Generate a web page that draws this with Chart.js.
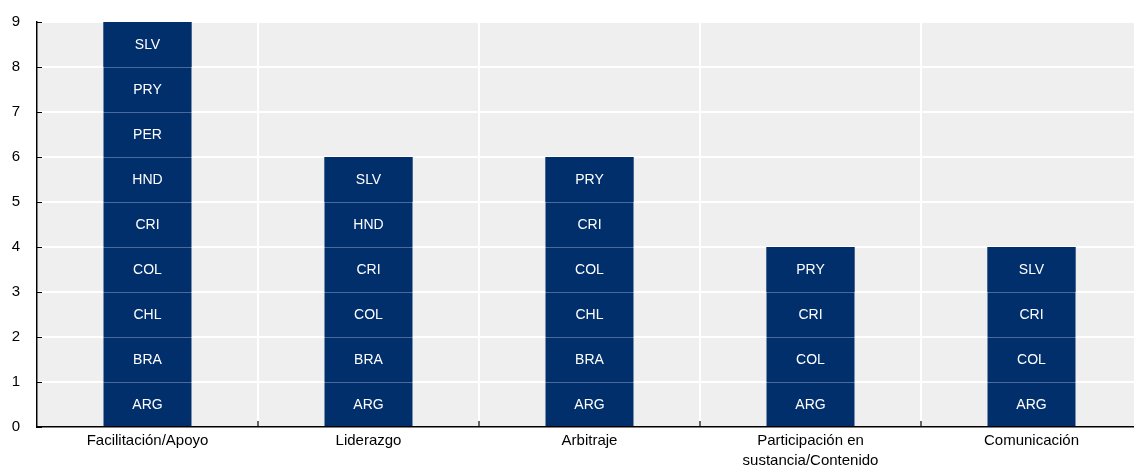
<!DOCTYPE html>
<html>
<head>
<meta charset="utf-8">
<script src="https://cdn.jsdelivr.net/npm/chart.js@4"></script>
<style>
  body { margin: 0; background: #fff; overflow: hidden; }
</style>
</head>
<body>
<canvas id="chart" width="1150" height="469"></canvas>
<script>
// DATA
var categories = [
  "Facilitación/Apoyo",
  "Liderazgo",
  "Arbitraje",
  ["Participación en", "sustancia/Contenido"],
  "Comunicación"
];

// countries in each bar, bottom to top (each counts 1)
var facilitacion = ["ARG", "BRA", "CHL", "COL", "CRI", "HND", "PER", "PRY", "SLV"];
var liderazgo = ["ARG", "BRA", "COL", "CRI", "HND", "SLV"];
var arbitraje = ["ARG", "BRA", "CHL", "COL", "CRI", "PRY"];
var participacion = ["ARG", "COL", "CRI", "PRY"];
var comunicacion = ["ARG", "COL", "CRI", "SLV"];

var yTicks = [0, 1, 2, 3, 4, 5, 6, 7, 8, 9];

var barLists = [facilitacion, liderazgo, arbitraje, participacion, comunicacion];

var navy = "#002F6C";
var FONT = "'Liberation Sans', Arial, sans-serif";

// one stacked dataset per level
var maxLevel = 0;
for (var i = 0; i < barLists.length; i++) {
  if (barLists[i].length > maxLevel) maxLevel = barLists[i].length;
}

var datasets = [];
for (var lvl = 0; lvl < maxLevel; lvl++) {
  var vals = [];
  for (var c = 0; c < barLists.length; c++) {
    vals.push(barLists[c][lvl] ? 1 : null);
  }
  datasets.push({
    data: vals,
    level: lvl,
    backgroundColor: navy,
    borderColor: "#4a6a9c",
    borderSkipped: false,
    borderWidth: function (ctx) {
      var l = ctx.dataset.level;
      var hasNext = barLists[ctx.dataIndex] && barLists[ctx.dataIndex][l + 1];
      return { top: hasNext ? 1 : 0, bottom: 0, left: 0, right: 0 };
    },
    categoryPercentage: 1,
    barPercentage: 0.4
  });
}

//  PLUGINS
var plotBg = {
  id: "plotBg",
  beforeDraw: function (chart) {
    var a = chart.chartArea;
    var ctx = chart.ctx;
    ctx.save();
    ctx.fillStyle = "#efefef";
    ctx.fillRect(a.left, a.top, a.right - a.left, a.bottom - a.top);
    ctx.restore();
  }
};

var segLabels = {
  id: "segLabels",
  afterDatasetsDraw: function (chart) {
    var ctx = chart.ctx;
    ctx.save();
    ctx.fillStyle = "#ffffff";
    ctx.font = "14px " + FONT;
    ctx.textAlign = "center";
    ctx.textBaseline = "middle";
    for (var d = 0; d < chart.data.datasets.length; d++) {
      var meta = chart.getDatasetMeta(d);
      for (var k = 0; k < meta.data.length; k++) {
        var name = barLists[k][d];
        if (!name) continue;
        var bar = meta.data[k];
        ctx.fillText(name, bar.x, (bar.y + bar.base) / 2 + 1);
      }
    }
    ctx.restore();
  }
};

// short black ticks pointing into the plot
var innerTicks = {
  id: "innerTicks",
  afterDraw: function (chart) {
    var ctx = chart.ctx;
    var a = chart.chartArea;
    var y = chart.scales.y;
    var x = chart.scales.x;
    ctx.save();
    ctx.strokeStyle = "#000";
    ctx.lineWidth = 1.2;
    ctx.beginPath();
    for (var i = 0; i < yTicks.length; i++) {
      var py = Math.round(y.getPixelForValue(yTicks[i])) + 0.5;
      ctx.moveTo(a.left, py);
      ctx.lineTo(a.left + 5, py);
    }
    for (var j = 1; j < categories.length; j++) {
      var px = (x.getPixelForValue(j - 1) + x.getPixelForValue(j)) / 2;
      ctx.moveTo(px, a.bottom);
      ctx.lineTo(px, a.bottom - 6);
    }
    ctx.stroke();
    ctx.restore();
  }
};

function noPad(s) {
  s.paddingTop = 0;
  s.paddingBottom = 0;
  s.paddingLeft = 0;
  s.paddingRight = 0;
}

//  CHART
new Chart(document.getElementById("chart"), {
  type: "bar",
  data: { labels: categories, datasets: datasets },
  plugins: [plotBg, segLabels, innerTicks],
  options: {
    responsive: false,
    animation: false,
    layout: { padding: { top: 22, right: 8, left: 0, bottom: 0 } },
    plugins: {
      legend: { display: false },
      tooltip: { enabled: false }
    },
    scales: {
      x: {
        stacked: true,
        offset: true,
        grid: { color: "#ffffff", lineWidth: 2, offset: true, drawTicks: false },
        border: { display: true, color: "#000", width: 1.5 },
        ticks: { color: "#000", font: { size: 15, family: FONT, lineHeight: 1.33 }, padding: 4, maxRotation: 0, autoSkip: false },
        afterFit: function (s) { s.height = 42; noPad(s); }
      },
      y: {
        stacked: true,
        min: 0,
        max: 9,
        grid: { color: "#ffffff", lineWidth: 2, drawTicks: false },
        border: { display: true, color: "#000", width: 1.5 },
        ticks: { stepSize: 1, color: "#000", font: { size: 15, family: FONT }, padding: 17 },
        afterFit: function (s) { s.width = 37; noPad(s); }
      }
    }
  }
});
</script>
</body>
</html>
